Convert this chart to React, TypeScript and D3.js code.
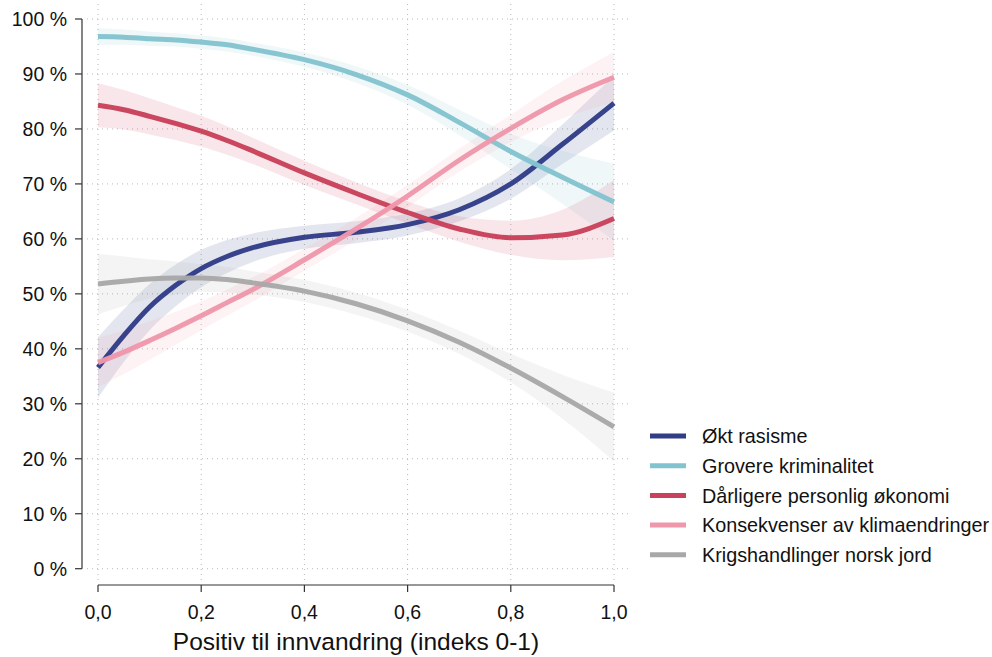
import React from "react";
import * as d3 from "d3";

const xs = [0, 0.05, 0.1, 0.15, 0.2, 0.25, 0.3, 0.4, 0.5, 0.6, 0.7, 0.8, 0.9, 1.0];

const seriesNames = [
  "Økt rasisme",
  "Grovere kriminalitet",
  "Dårligere personlig økonomi",
  "Konsekvenser av klimaendringer",
  "Krigshandlinger norsk jord",
];

const rasisme = [36.6, 42.4, 47.6, 51.5, 54.6, 56.8, 58.4, 60.3, 61.2, 62.6, 65.3, 70.0, 77.2, 84.7];
const rasismeCi = [5.5, 4.8, 4.2, 3.8, 3.4, 3.0, 2.6, 2.1, 2.0, 2.0, 2.1, 2.7, 3.6, 5.0];

const kriminalitet = [96.8, 96.7, 96.4, 96.2, 95.8, 95.3, 94.5, 92.6, 89.9, 86.2, 81.2, 75.9, 71.2, 66.7];
const kriminalitetCi = [1.5, 1.4, 1.3, 1.2, 1.2, 1.2, 1.2, 1.3, 1.5, 1.8, 2.3, 3.2, 4.8, 7.0];

const okonomi = [84.3, 83.5, 82.3, 81.0, 79.6, 77.9, 76.0, 72.0, 68.3, 64.8, 61.8, 60.2, 60.7, 63.7];
const okonomiCi = [4.0, 3.6, 3.3, 3.0, 2.8, 2.6, 2.4, 2.2, 2.0, 2.0, 2.3, 3.1, 4.6, 7.0];

const klima = [37.5, 39.4, 41.5, 43.7, 46.0, 48.4, 50.8, 56.2, 61.8, 67.8, 74.3, 80.1, 85.3, 89.4];
const klimaCi = [4.5, 4.0, 3.5, 3.0, 2.6, 2.4, 2.2, 2.0, 2.0, 2.0, 2.1, 2.5, 3.4, 4.6];

const krig = [51.8, 52.3, 52.7, 52.9, 52.9, 52.6, 52.0, 50.5, 48.2, 45.1, 41.2, 36.5, 31.3, 25.8];
const krigCi = [5.5, 4.5, 3.6, 3.0, 2.5, 2.3, 2.1, 2.0, 2.0, 2.0, 2.1, 2.6, 4.0, 6.2];

const seriesValues = [rasisme, kriminalitet, okonomi, klima, krig];
const seriesCi = [rasismeCi, kriminalitetCi, okonomiCi, klimaCi, krigCi];
const colors = ["#313d87", "#83c3cf", "#c9415b", "#ef97ab", "#a8a8a8"];

const yTicks = [0, 10, 20, 30, 40, 50, 60, 70, 80, 90, 100];
const xTicks = [0, 0.2, 0.4, 0.6, 0.8, 1.0];

const FONT = "'Liberation Sans', Arial, Helvetica, sans-serif";

export default function App() {
  const W = 992;
  const H = 657;
  const x = d3.scaleLinear().domain([0, 1]).range([98, 614]);
  const y = d3.scaleLinear().domain([0, 100]).range([568.7, 19]);

  const line = d3
    .line<[number, number]>()
    .x((d) => x(d[0]))
    .y((d) => y(d[1]))
    .curve(d3.curveMonotoneX);
  const area = d3
    .area<[number, number, number]>()
    .x((d) => x(d[0]))
    .y0((d) => y(d[1] - d[2]))
    .y1((d) => y(d[1] + d[2]))
    .curve(d3.curveMonotoneX);

  const fmtX = (v: number) => v.toFixed(1).replace(".", ",");

  return (
    <svg
      width={W}
      height={H}
      style={{ position: "absolute", left: 0, top: 0, background: "#fff" }}
      fontFamily={FONT}
    >
      {/* grid */}
      {yTicks.map((t) => (
        <line
          key={"gy" + t}
          x1={87}
          x2={628}
          y1={y(t)}
          y2={y(t)}
          stroke="#b8b8b8"
          strokeWidth={1}
          strokeDasharray="1,4"
        />
      ))}
      {xTicks.map((t) => (
        <line
          key={"gx" + t}
          x1={x(t)}
          x2={x(t)}
          y1={4}
          y2={581}
          stroke="#b8b8b8"
          strokeWidth={1}
          strokeDasharray="1,4"
        />
      ))}

      {/* bands */}
      {seriesValues.map((vals, i) => (
        <path
          key={"band" + i}
          d={area(xs.map((xv, j) => [xv, vals[j], seriesCi[i][j]] as [number, number, number])) || ""}
          fill={colors[i]}
          fillOpacity={0.13}
        />
      ))}

      {/* lines */}
      {seriesValues.map((vals, i) => (
        <path
          key={"line" + i}
          d={line(xs.map((xv, j) => [xv, vals[j]] as [number, number])) || ""}
          fill="none"
          stroke={colors[i]}
          strokeWidth={5}
          strokeOpacity={0.97}
        />
      ))}

      {/* y axis */}
      <line x1={82} x2={82} y1={y(0)} y2={y(100)} stroke="#333" strokeWidth={1.2} />
      {yTicks.map((t) => (
        <g key={"yt" + t}>
          <line x1={75} x2={82} y1={y(t)} y2={y(t)} stroke="#333" strokeWidth={1.2} />
          <text x={67} y={y(t)} dy="0.36em" textAnchor="end" fontSize={19.5} fill="#111">
            {t + " %"}
          </text>
        </g>
      ))}

      {/* x axis */}
      <line x1={x(0)} x2={x(1)} y1={585} y2={585} stroke="#333" strokeWidth={1.2} />
      {xTicks.map((t) => (
        <g key={"xt" + t}>
          <line x1={x(t)} x2={x(t)} y1={585} y2={592} stroke="#333" strokeWidth={1.2} />
          <text x={x(t)} y={619} textAnchor="middle" fontSize={19.5} fill="#111">
            {fmtX(t)}
          </text>
        </g>
      ))}
      <text x={356} y={650} textAnchor="middle" fontSize={24.5} fill="#111">
        Positiv til innvandring (indeks 0-1)
      </text>

      {/* legend */}
      {seriesNames.map((n, i) => (
        <g key={"lg" + i}>
          <line x1={650} x2={686} y1={436 + i * 29.7} y2={436 + i * 29.7} stroke={colors[i]} strokeWidth={5} />
          <text x={702} y={436 + i * 29.7} dy="0.36em" fontSize={19.8} fill="#111">
            {n}
          </text>
        </g>
      ))}
    </svg>
  );
}
